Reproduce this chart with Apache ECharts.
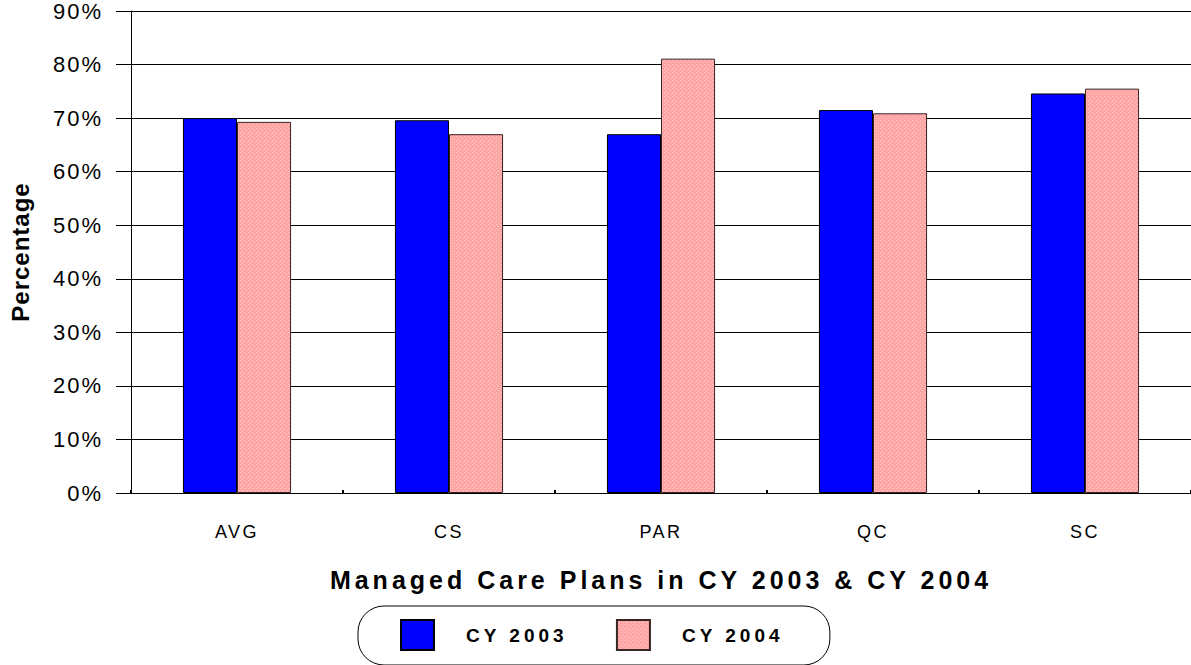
<!DOCTYPE html>
<html>
<head>
<meta charset="utf-8">
<script src="https://cdn.jsdelivr.net/npm/echarts@6/dist/echarts.min.js"></script>
<style>
  html, body { margin: 0; padding: 0; background: #fff; }
  #chart { width: 1191px; height: 665px; }
  /* the source image has wide character spacing; each text size gets its own */
  #chart text { letter-spacing: 3px; }
  #chart text[style*="22px"] { letter-spacing: 2px; }
  #chart text[style*="18px"] { letter-spacing: 2.5px; }
  #chart text[style*="19px"] { letter-spacing: 4px; }
  #chart text[style*="25px"] { letter-spacing: 4px; }
  #chart text[style*="24px"] { letter-spacing: 1px; }
</style>
</head>
<body>
<div id="chart"></div>
<script>
const categories = ["AVG", "CS", "PAR", "QC", "SC"];
const cy2003 = [70.0, 69.6, 67.0, 71.5, 74.6];
const cy2004 = [69.3, 67.0, 81.1, 70.9, 75.5];
const seriesNames = ["CY 2003", "CY 2004"];

const font = 'Arial, "Liberation Sans", sans-serif';

// small dotted pink fill like the old hatched bars
const makePattern = () => {
  const c = document.createElement("canvas");
  c.width = 4;
  c.height = 4;
  const ctx = c.getContext("2d");
  ctx.fillStyle = "#ffa4a4";
  ctx.fillRect(0, 0, 4, 4);
  ctx.fillStyle = "#ffd2d2";
  ctx.fillRect(0, 0, 1, 1);
  ctx.fillRect(2, 2, 1, 1);
  return c.toDataURL();
};
const pinkFill = { image: makePattern(), repeat: "repeat" };

const chart = echarts.init(document.getElementById("chart"), null, { renderer: "svg" });

chart.setOption({
  animation: false,
  backgroundColor: "#fff",
  textStyle: { fontFamily: font, color: "#000" },
  grid: {
    left: 128,
    top: 11,
    width: 1065,
    bottom: 172,
  },
  legend: {
    left: 358,
    top: 606,
    padding: [13, 74, 14, 42],
    icon: "rect",
    itemWidth: 33,
    itemHeight: 30,
    itemGap: 76,
    borderColor: "#000",
    borderWidth: 1,
    borderRadius: 26,
    textStyle: {
      fontSize: 19,
      fontWeight: "bold",
      fontFamily: font,
      color: "#000",
      padding: [0, 0, 0, 27],
    },
    data: seriesNames,
  },
  xAxis: [
    {
      type: "category",
      data: categories,
      name: "Managed Care Plans in CY 2003 & CY 2004",
      nameLocation: "middle",
      nameGap: 74,
      nameTextStyle: { fontSize: 25, fontWeight: "bold", fontFamily: font, color: "#000" },
      axisLine: { lineStyle: { color: "#000", width: 1 } },
      axisTick: { alignWithLabel: true, length: 15, lineStyle: { color: "#000" } },
      axisLabel: { fontSize: 18, margin: 30, color: "#000" },
    },
    {
      type: "category",
      data: categories,
      position: "bottom",
      axisLine: { show: false },
      axisTick: { show: true, inside: true, length: 3, lineStyle: { color: "#000", width: 2 } },
      axisLabel: { show: false },
    },
  ],
  yAxis: {
    type: "value",
    min: 0,
    max: 90,
    interval: 10,
    name: "Percentage",
    nameLocation: "middle",
    nameGap: 99,
    nameTextStyle: { fontSize: 24, fontWeight: "bold", fontFamily: font, color: "#000" },
    axisLine: { show: true, lineStyle: { color: "#000", width: 1 } },
    axisTick: { show: true, length: 15, lineStyle: { color: "#000" } },
    axisLabel: { formatter: "{value}%", fontSize: 22, margin: 28, color: "#000" },
    splitLine: { lineStyle: { color: "#000", width: 1 } },
  },
  series: [
    {
      name: seriesNames[0],
      type: "bar",
      data: cy2003,
      barGap: "0%",
      barCategoryGap: "49%",
      itemStyle: { color: "#0000ff", borderColor: "#000", borderWidth: 1 },
    },
    {
      name: seriesNames[1],
      type: "bar",
      data: cy2004,
      itemStyle: { color: pinkFill, borderColor: "#3a2525", borderWidth: 1 },
    },
  ],
});
</script>
</body>
</html>
